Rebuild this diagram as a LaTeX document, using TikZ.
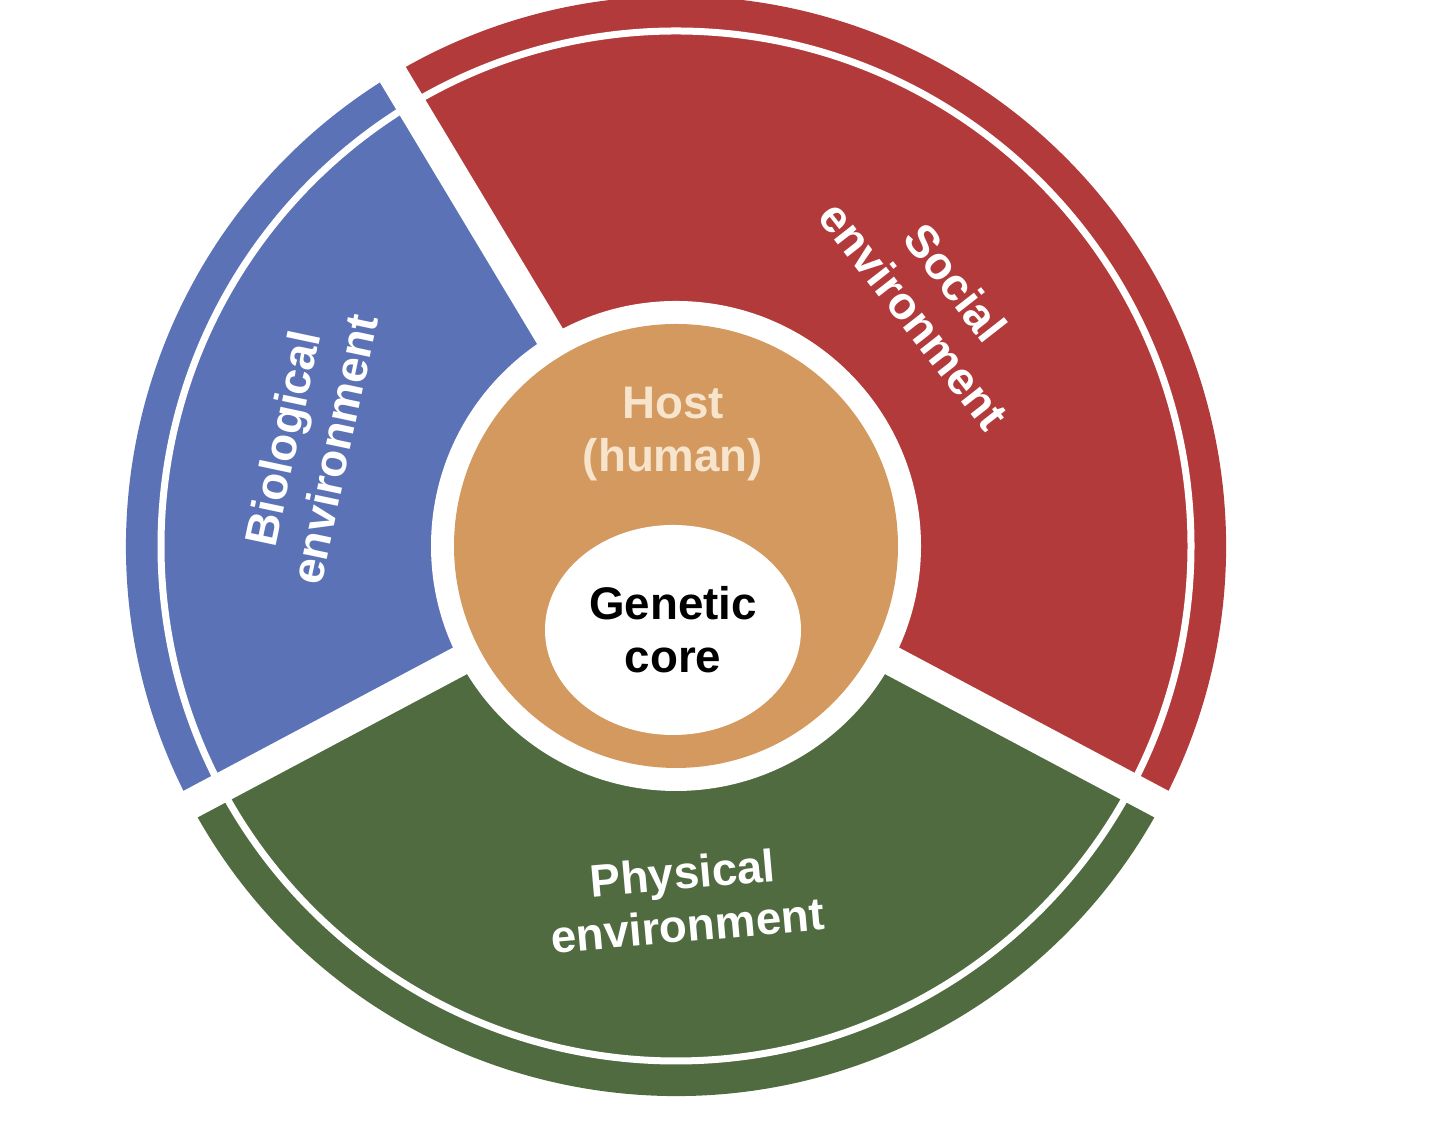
\documentclass[tikz,border=0pt]{standalone}
\usepackage{fontspec}
\setmainfont{Liberation Sans}
\usetikzlibrary{shapes.geometric}
\definecolor{cred}{HTML}{B33A3A}
\definecolor{cblue}{HTML}{5B72B6}
\definecolor{cgreen}{HTML}{506B40}
\definecolor{corange}{HTML}{D4995E}
\definecolor{cpeach}{HTML}{F7E4CC}
\tikzset{lab/.style={text=white,font=\bfseries\fontsize{13}{15}\selectfont,align=center}}
\begin{document}
\begin{tikzpicture}
\useasboundingbox (0,0) rectangle (14.4,11.44);
\coordinate (c) at (6.76,5.98);
\fill[cred] (c) -- ++(-28:5.5) arc[start angle=-28,end angle=121,radius=5.5] -- cycle;
\fill[cblue] (c) -- ++(121:5.5) arc[start angle=121,end angle=208,radius=5.5] -- cycle;
\fill[cgreen] (c) -- ++(208:5.5) arc[start angle=208,end angle=332,radius=5.5] -- cycle;
\draw[white,line width=0.07cm] (c) circle[radius=5.15];
\foreach \a in {-28,121,208} \draw[white,line width=0.3cm] (c) -- ++(\a:5.7);
\fill[white] (c) circle[radius=2.45];
\node[circle,fill=corange,minimum size=4.44cm,inner sep=0] (host) at (c) {};
\node[ellipse,fill=white,minimum width=2.56cm,minimum height=2.1cm,inner sep=0] (core) at (6.73,5.14) {};
\node[font=\bfseries\fontsize{13}{15}\selectfont,align=center] at (core) {Genetic\\core};
\node[lab,text=cpeach] (hostlab) at (6.73,7.1) {Host\\(human)};
\node[lab,rotate=-52] (soc) at (9.35,8.45) {Social\\environment};
\node[lab,rotate=78] (bio) at (3.08,7.0) {Biological\\environment};
\node[lab,rotate=5] (phy) at (6.85,2.45) {Physical\\environment};
\end{tikzpicture}
\end{document}
